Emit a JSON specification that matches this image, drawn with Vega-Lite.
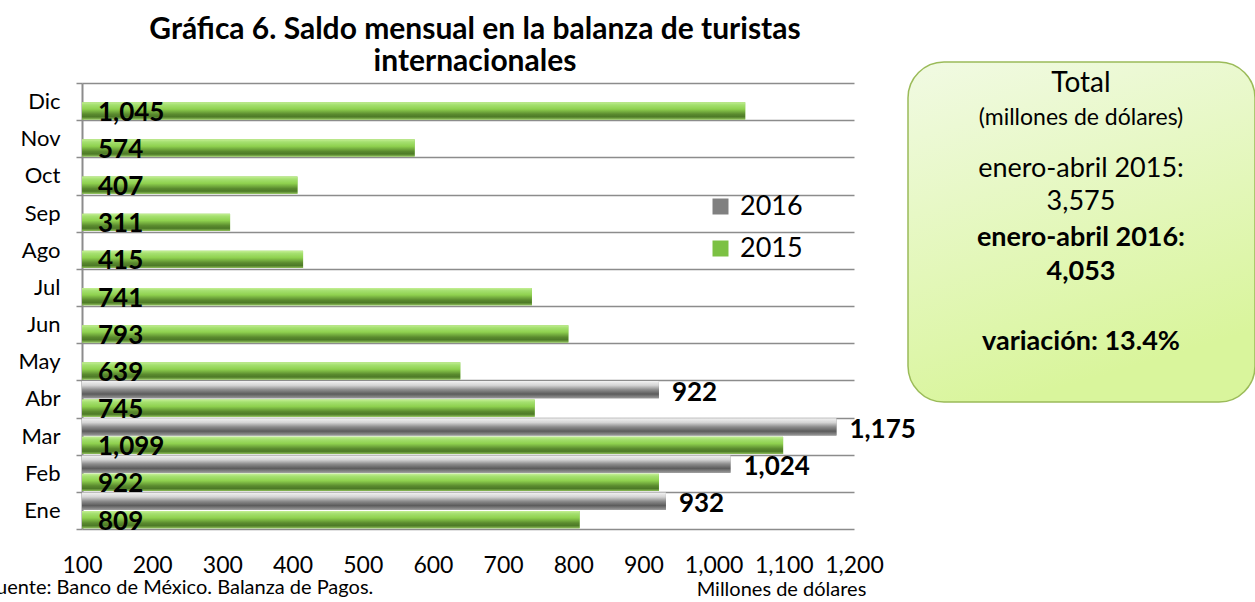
{
  "$schema": "https://vega.github.io/schema/vega-lite/v6.json",
  "autosize": {"type": "none"},
  "width": 772,
  "height": 446,
  "padding": {"left": 82, "top": 83, "right": 401, "bottom": 73},
  "background": "white",
  "config": {"view": {"stroke": null}, "font": "Lato"},
  "title": {"text": ["Gráfica 6. Saldo mensual en la balanza de turistas", "internacionales"], "fontSize": 30, "fontWeight": "bold", "font": "Lato", "color": "#000", "anchor": "middle", "lineHeight": 32, "offset": -16, "dx": 7},
  "resolve": {"scale": {"x": "independent", "y": "independent"}},
  "layer": [
    {
      "data": {"values": [
        {"mes": "Ene", "year": "2016", "valor": 932},
        {"mes": "Feb", "year": "2016", "valor": 1024},
        {"mes": "Mar", "year": "2016", "valor": 1175},
        {"mes": "Abr", "year": "2016", "valor": 922},
        {"mes": "Ene", "year": "2015", "valor": 809},
        {"mes": "Feb", "year": "2015", "valor": 922},
        {"mes": "Mar", "year": "2015", "valor": 1099},
        {"mes": "Abr", "year": "2015", "valor": 745},
        {"mes": "May", "year": "2015", "valor": 639},
        {"mes": "Jun", "year": "2015", "valor": 793},
        {"mes": "Jul", "year": "2015", "valor": 741},
        {"mes": "Ago", "year": "2015", "valor": 415},
        {"mes": "Sep", "year": "2015", "valor": 311},
        {"mes": "Oct", "year": "2015", "valor": 407},
        {"mes": "Nov", "year": "2015", "valor": 574},
        {"mes": "Dic", "year": "2015", "valor": 1045}
      ]},
      "layer": [
        {
          "mark": {"type": "bar"},
          "encoding": {
            "y": {"field": "mes", "type": "nominal", "sort": ["Dic", "Nov", "Oct", "Sep", "Ago", "Jul", "Jun", "May", "Abr", "Mar", "Feb", "Ene"],
              "scale": {"paddingInner": 0, "paddingOuter": 0},
              "axis": {"title": "Fuente: Banco de México. Balanza de Pagos.", "titleAngle": 0, "titleX": -97, "titleY": 504, "titleAlign": "left", "titleBaseline": "middle", "titleFontSize": 20, "titleFontWeight": "normal", "titleColor": "#000", "titleFont": "Lato",
                "tickBand": "extent", "grid": true, "gridColor": "#8c8c8c", "gridWidth": 1.5, "domain": true, "domainColor": "#8c8c8c", "domainWidth": 2, "ticks": true, "tickColor": "#8c8c8c", "tickSize": 6, "tickWidth": 1.5, "labelFontSize": 22, "labelColor": "#000", "labelPadding": 16, "labelFont": "Lato"}},
            "yOffset": {"field": "year", "type": "nominal", "scale": {"domain": ["2016", "2015"], "paddingInner": 0.06, "paddingOuter": 0.04}},
            "x": {"field": "valor", "type": "quantitative",
              "scale": {"domain": [100, 1200], "nice": false, "zero": false},
              "axis": {"title": "Millones de dólares", "values": [100, 200, 300, 400, 500, 600, 700, 800, 900, 1000, 1100, 1200], "format": ",.0f", "labelOverlap": false, "labelFlush": false, "grid": false, "domain": false, "ticks": false, "tickSize": 0, "labelFontSize": 23, "labelColor": "#000", "labelPadding": 25, "labelFont": "Lato", "titleFontSize": 20, "titleFontWeight": "normal", "titleColor": "#000", "titleFont": "Lato", "titleX": 699, "titleY": 60, "titleAlign": "center", "titleBaseline": "middle"}},
            "x2": {"datum": 100},
            "color": {"field": "year", "type": "nominal", "scale": {"domain": ["2016", "2015"], "range": ["#808080", "#7cc143"]},
              "legend": {"title": null, "orient": "none", "legendX": 625, "legendY": 110, "padding": 0, "symbolType": "square", "symbolSize": 256, "symbolStrokeWidth": 0, "labelFontSize": 27, "labelFont": "Lato", "labelColor": "#000", "labelOffset": 6, "rowPadding": 14}}
          }
        },
        {
          "transform": [{"filter": "datum.year == '2016'"}],
          "mark": {"type": "bar", "fill": {"gradient": "linear", "x1": 0, "y1": 0, "x2": 0, "y2": 1, "stops": [
            {"offset": 0, "color": "#f2f2f2"},
            {"offset": 0.25, "color": "#d4d4d4"},
            {"offset": 0.5, "color": "#8c8c8c"},
            {"offset": 0.75, "color": "#5c5c5c"},
            {"offset": 1, "color": "#9a9a9a"}]}},
          "encoding": {
            "y": {"field": "mes", "type": "nominal", "sort": ["Dic", "Nov", "Oct", "Sep", "Ago", "Jul", "Jun", "May", "Abr", "Mar", "Feb", "Ene"]},
            "yOffset": {"field": "year", "type": "nominal"},
            "x": {"field": "valor", "type": "quantitative"},
            "x2": {"datum": 100}
          }
        },
        {
          "transform": [{"filter": "datum.year == '2015'"}],
          "mark": {"type": "bar", "fill": {"gradient": "linear", "x1": 0, "y1": 0, "x2": 0, "y2": 1, "stops": [
            {"offset": 0, "color": "#c5ef95"},
            {"offset": 0.15, "color": "#a5e070"},
            {"offset": 0.4, "color": "#8fd14f"},
            {"offset": 0.7, "color": "#5a8a2e"},
            {"offset": 0.85, "color": "#4d7a27"},
            {"offset": 1, "color": "#8fbf5a"}]}},
          "encoding": {
            "y": {"field": "mes", "type": "nominal", "sort": ["Dic", "Nov", "Oct", "Sep", "Ago", "Jul", "Jun", "May", "Abr", "Mar", "Feb", "Ene"]},
            "yOffset": {"field": "year", "type": "nominal"},
            "x": {"field": "valor", "type": "quantitative"},
            "x2": {"datum": 100}
          }
        },
        {
          "transform": [{"filter": "datum.year == '2015'"}],
          "mark": {"type": "text", "align": "left", "baseline": "middle", "dx": 16, "dy": 2, "fontSize": 26, "fontWeight": "bold", "font": "Lato", "color": "#000"},
          "encoding": {
            "y": {"field": "mes", "type": "nominal", "sort": ["Dic", "Nov", "Oct", "Sep", "Ago", "Jul", "Jun", "May", "Abr", "Mar", "Feb", "Ene"]},
            "yOffset": {"field": "year", "type": "nominal"},
            "x": {"datum": 100},
            "text": {"field": "valor", "type": "quantitative", "format": ","}
          }
        },
        {
          "transform": [{"filter": "datum.year == '2016'"}],
          "mark": {"type": "text", "align": "left", "baseline": "middle", "dx": 13, "dy": 3, "fontSize": 26, "fontWeight": "bold", "font": "Lato", "color": "#000"},
          "encoding": {
            "y": {"field": "mes", "type": "nominal", "sort": ["Dic", "Nov", "Oct", "Sep", "Ago", "Jul", "Jun", "May", "Abr", "Mar", "Feb", "Ene"]},
            "yOffset": {"field": "year", "type": "nominal"},
            "x": {"field": "valor", "type": "quantitative"},
            "text": {"field": "valor", "type": "quantitative", "format": ","}
          }
        }
      ]
    },
    {
      "data": {"values": [{"x": 826, "x2": 1173, "y": -21, "y2": 319}]},
      "encoding": {
        "x": {"field": "x", "type": "quantitative", "scale": {"domain": [0, 772], "nice": false, "zero": false}, "axis": null},
        "y": {"field": "y", "type": "quantitative", "scale": {"domain": [0, 446], "nice": false, "zero": false, "reverse": true}, "axis": null}
      },
      "layer": [
        {
          "mark": {"type": "rect", "cornerRadius": 36, "stroke": "#9bbb59", "strokeWidth": 1.5, "fill": {"gradient": "linear", "x1": 0, "y1": 0, "x2": 0.3, "y2": 1, "stops": [
            {"offset": 0, "color": "#f1fae3"},
            {"offset": 1, "color": "#d9f59c"}]}},
          "encoding": {"x2": {"field": "x2"}, "y2": {"field": "y2"}}
        },
        {"mark": {"type": "text", "text": "Total", "fontSize": 28, "font": "Lato", "color": "#000", "baseline": "middle", "align": "center"}, "encoding": {"x": {"datum": 999}, "y": {"datum": 1}}},
        {"mark": {"type": "text", "text": "(millones de dólares)", "fontSize": 23, "font": "Lato", "color": "#000", "baseline": "middle", "align": "center"}, "encoding": {"x": {"datum": 999}, "y": {"datum": 35}}},
        {"mark": {"type": "text", "text": "enero-abril 2015:", "fontSize": 27, "font": "Lato", "color": "#000", "baseline": "middle", "align": "center"}, "encoding": {"x": {"datum": 999}, "y": {"datum": 86}}},
        {"mark": {"type": "text", "text": "3,575", "fontSize": 27, "font": "Lato", "color": "#000", "baseline": "middle", "align": "center"}, "encoding": {"x": {"datum": 999}, "y": {"datum": 119}}},
        {"mark": {"type": "text", "text": "enero-abril 2016:", "fontSize": 27, "fontWeight": "bold", "font": "Lato", "color": "#000", "baseline": "middle", "align": "center"}, "encoding": {"x": {"datum": 999}, "y": {"datum": 155}}},
        {"mark": {"type": "text", "text": "4,053", "fontSize": 27, "fontWeight": "bold", "font": "Lato", "color": "#000", "baseline": "middle", "align": "center"}, "encoding": {"x": {"datum": 999}, "y": {"datum": 189}}},
        {"mark": {"type": "text", "text": "variación: 13.4%", "fontSize": 27, "fontWeight": "bold", "font": "Lato", "color": "#000", "baseline": "middle", "align": "center"}, "encoding": {"x": {"datum": 999}, "y": {"datum": 259}}}
      ]
    }
  ]
}
